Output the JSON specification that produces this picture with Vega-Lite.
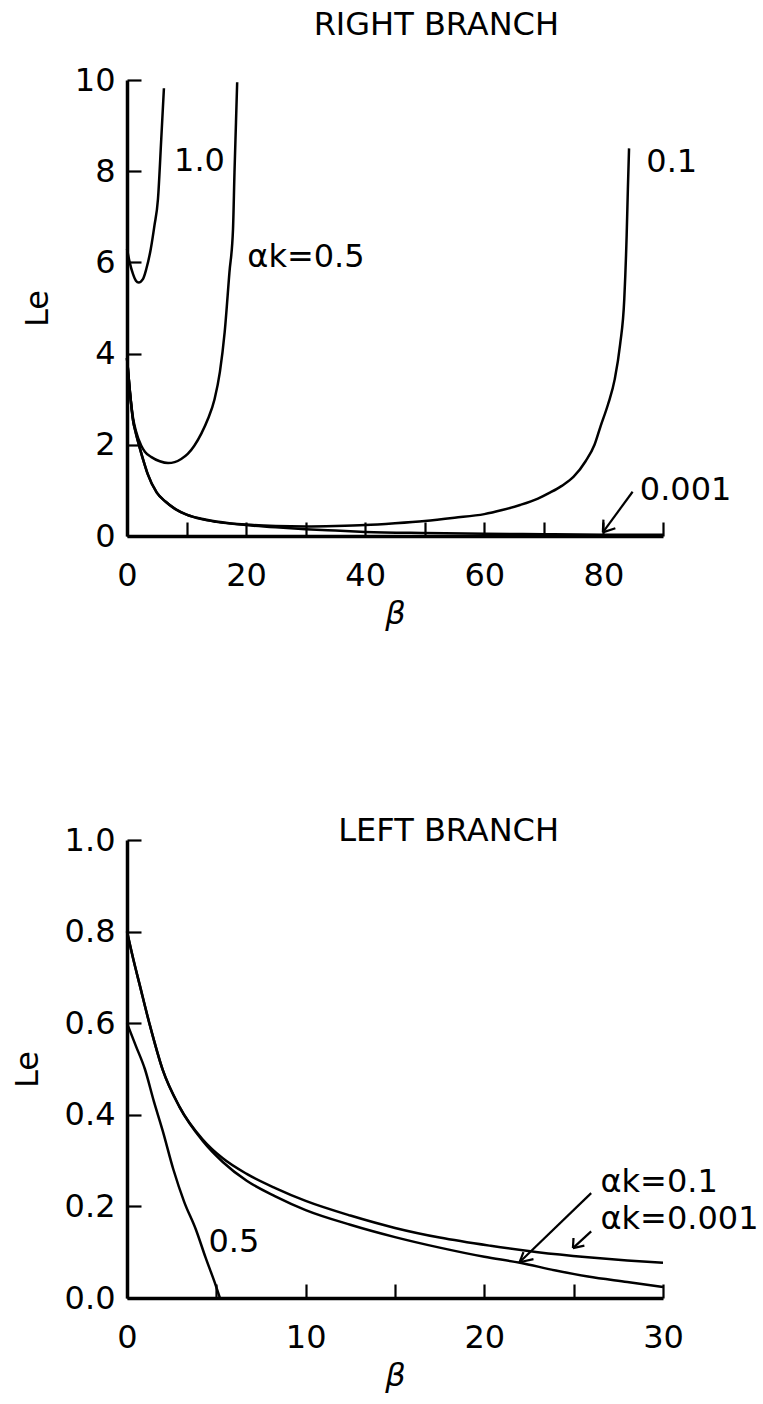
{
  "$schema": "https://vega.github.io/schema/vega-lite/v6.json",
  "padding": {"left": 11, "top": 9, "right": 5, "bottom": 12},
  "background": "white",
  "bounds": "flush",
  "spacing": 304,
  "config": {
    "view": {"stroke": null},
    "font": "DejaVu Sans",
    "axis": {
      "grid": false,
      "domainColor": "black",
      "domainWidth": 3.5,
      "tickColor": "black",
      "tickWidth": 2.2,
      "tickSize": -14,
      "labelFont": "DejaVu Sans",
      "labelFontSize": 32,
      "labelColor": "black",
      "titleFont": "DejaVu Sans",
      "titleFontSize": 32,
      "titleFontWeight": "normal",
      "titleColor": "black",
      "labelFlush": false,
      "labelOverlap": false,
      "labelBound": false
    },
    "axisX": {"labelPadding": 38, "titlePadding": 7},
    "axisY": {"labelPadding": 26, "titlePadding": 20},
    "title": {"font": "DejaVu Sans", "fontSize": 32, "fontWeight": "normal", "color": "black", "anchor": "end", "frame": "group", "dx": -104}
  },
  "datasets": {
    "top_curves": [
      {"ak": "1.0", "beta": 0, "le": 6.3}, {"ak": "1.0", "beta": 0.45, "le": 6.0}, {"ak": "1.0", "beta": 1.0, "le": 5.75}, {"ak": "1.0", "beta": 1.5, "le": 5.6}, {"ak": "1.0", "beta": 1.95, "le": 5.56}, {"ak": "1.0", "beta": 2.7, "le": 5.64}, {"ak": "1.0", "beta": 3.25, "le": 5.86}, {"ak": "1.0", "beta": 4.0, "le": 6.3}, {"ak": "1.0", "beta": 4.6, "le": 6.8}, {"ak": "1.0", "beta": 5.2, "le": 7.39}, {"ak": "1.0", "beta": 5.75, "le": 8.7}, {"ak": "1.0", "beta": 6.2, "le": 9.82},
      {"ak": "0.5", "beta": 0, "le": 3.9}, {"ak": "0.5", "beta": 0.5, "le": 3.15}, {"ak": "0.5", "beta": 1.0, "le": 2.6}, {"ak": "0.5", "beta": 1.5, "le": 2.3}, {"ak": "0.5", "beta": 2.4, "le": 1.98}, {"ak": "0.5", "beta": 3.0, "le": 1.85}, {"ak": "0.5", "beta": 4.1, "le": 1.73}, {"ak": "0.5", "beta": 5.5, "le": 1.64}, {"ak": "0.5", "beta": 6.9, "le": 1.6}, {"ak": "0.5", "beta": 8.0, "le": 1.62}, {"ak": "0.5", "beta": 9.1, "le": 1.69}, {"ak": "0.5", "beta": 10.2, "le": 1.8}, {"ak": "0.5", "beta": 11.3, "le": 1.98}, {"ak": "0.5", "beta": 12.5, "le": 2.25}, {"ak": "0.5", "beta": 13.6, "le": 2.57}, {"ak": "0.5", "beta": 14.7, "le": 3.0}, {"ak": "0.5", "beta": 15.6, "le": 3.6}, {"ak": "0.5", "beta": 16.4, "le": 4.47}, {"ak": "0.5", "beta": 17.2, "le": 5.78}, {"ak": "0.5", "beta": 17.8, "le": 6.73}, {"ak": "0.5", "beta": 18.05, "le": 7.98}, {"ak": "0.5", "beta": 18.3, "le": 9.07}, {"ak": "0.5", "beta": 18.5, "le": 9.95},
      {"ak": "0.1", "beta": 0, "le": 3.9}, {"ak": "0.1", "beta": 0.5, "le": 3.15}, {"ak": "0.1", "beta": 1, "le": 2.55}, {"ak": "0.1", "beta": 1.5, "le": 2.25}, {"ak": "0.1", "beta": 2, "le": 2.0}, {"ak": "0.1", "beta": 3, "le": 1.55}, {"ak": "0.1", "beta": 3.5, "le": 1.35}, {"ak": "0.1", "beta": 5, "le": 0.95}, {"ak": "0.1", "beta": 6.5, "le": 0.75}, {"ak": "0.1", "beta": 8, "le": 0.6}, {"ak": "0.1", "beta": 10, "le": 0.47}, {"ak": "0.1", "beta": 12.5, "le": 0.38}, {"ak": "0.1", "beta": 15, "le": 0.32}, {"ak": "0.1", "beta": 20, "le": 0.25}, {"ak": "0.1", "beta": 25, "le": 0.22}, {"ak": "0.1", "beta": 30, "le": 0.21}, {"ak": "0.1", "beta": 35, "le": 0.22}, {"ak": "0.1", "beta": 40, "le": 0.24}, {"ak": "0.1", "beta": 45, "le": 0.28}, {"ak": "0.1", "beta": 50, "le": 0.33}, {"ak": "0.1", "beta": 55, "le": 0.4}, {"ak": "0.1", "beta": 60, "le": 0.48}, {"ak": "0.1", "beta": 63, "le": 0.57}, {"ak": "0.1", "beta": 66, "le": 0.68}, {"ak": "0.1", "beta": 69, "le": 0.82}, {"ak": "0.1", "beta": 71, "le": 0.95}, {"ak": "0.1", "beta": 73, "le": 1.1}, {"ak": "0.1", "beta": 75, "le": 1.3}, {"ak": "0.1", "beta": 77, "le": 1.64}, {"ak": "0.1", "beta": 78.5, "le": 2.0}, {"ak": "0.1", "beta": 79.5, "le": 2.4}, {"ak": "0.1", "beta": 80.8, "le": 2.9}, {"ak": "0.1", "beta": 81.9, "le": 3.44}, {"ak": "0.1", "beta": 82.8, "le": 4.2}, {"ak": "0.1", "beta": 83.5, "le": 5.2}, {"ak": "0.1", "beta": 83.9, "le": 6.6}, {"ak": "0.1", "beta": 84.1, "le": 7.6}, {"ak": "0.1", "beta": 84.3, "le": 8.5},
      {"ak": "0.001", "beta": 0, "le": 3.9}, {"ak": "0.001", "beta": 0.5, "le": 3.15}, {"ak": "0.001", "beta": 1, "le": 2.55}, {"ak": "0.001", "beta": 1.5, "le": 2.25}, {"ak": "0.001", "beta": 2, "le": 2.0}, {"ak": "0.001", "beta": 3, "le": 1.55}, {"ak": "0.001", "beta": 3.5, "le": 1.35}, {"ak": "0.001", "beta": 5, "le": 0.95}, {"ak": "0.001", "beta": 6.5, "le": 0.75}, {"ak": "0.001", "beta": 8, "le": 0.6}, {"ak": "0.001", "beta": 10, "le": 0.47}, {"ak": "0.001", "beta": 12.5, "le": 0.37}, {"ak": "0.001", "beta": 15, "le": 0.31}, {"ak": "0.001", "beta": 20, "le": 0.24}, {"ak": "0.001", "beta": 25, "le": 0.19}, {"ak": "0.001", "beta": 30, "le": 0.15}, {"ak": "0.001", "beta": 35, "le": 0.12}, {"ak": "0.001", "beta": 40, "le": 0.09}, {"ak": "0.001", "beta": 50, "le": 0.065}, {"ak": "0.001", "beta": 60, "le": 0.05}, {"ak": "0.001", "beta": 70, "le": 0.04}, {"ak": "0.001", "beta": 80, "le": 0.03}, {"ak": "0.001", "beta": 90, "le": 0.025}
    ],
    "top_arrows": [
      {"beta": 84.9, "le": 0.97, "beta2": 79.9, "le2": 0.08},
      {"beta": 79.9, "le": 0.08, "beta2": 80.0, "le2": 0.36},
      {"beta": 79.9, "le": 0.08, "beta2": 82.0, "le2": 0.17}
    ],
    "top_labels": [
      {"beta": 7.9, "le": 8.22, "label": "1.0"},
      {"beta": 20.2, "le": 6.12, "label": "αk=0.5"},
      {"beta": 87.2, "le": 8.2, "label": "0.1"},
      {"beta": 86.1, "le": 1.01, "label": "0.001"}
    ],
    "bottom_curves": [
      {"ak": "0.001", "beta": 0, "le": 0.8}, {"ak": "0.001", "beta": 0.35, "le": 0.74}, {"ak": "0.001", "beta": 0.69, "le": 0.687}, {"ak": "0.001", "beta": 1.25, "le": 0.6}, {"ak": "0.001", "beta": 2.0, "le": 0.498}, {"ak": "0.001", "beta": 2.93, "le": 0.418}, {"ak": "0.001", "beta": 4.24, "le": 0.346}, {"ak": "0.001", "beta": 5.36, "le": 0.305}, {"ak": "0.001", "beta": 6.7, "le": 0.271}, {"ak": "0.001", "beta": 8.3, "le": 0.24}, {"ak": "0.001", "beta": 10, "le": 0.212}, {"ak": "0.001", "beta": 12.5, "le": 0.18}, {"ak": "0.001", "beta": 15, "le": 0.153}, {"ak": "0.001", "beta": 17.5, "le": 0.132}, {"ak": "0.001", "beta": 20.35, "le": 0.114}, {"ak": "0.001", "beta": 23, "le": 0.1}, {"ak": "0.001", "beta": 25.8, "le": 0.089}, {"ak": "0.001", "beta": 28, "le": 0.082}, {"ak": "0.001", "beta": 30, "le": 0.077},
      {"ak": "0.1", "beta": 0, "le": 0.8}, {"ak": "0.1", "beta": 0.35, "le": 0.74}, {"ak": "0.1", "beta": 0.69, "le": 0.687}, {"ak": "0.1", "beta": 1.25, "le": 0.6}, {"ak": "0.1", "beta": 2.0, "le": 0.498}, {"ak": "0.1", "beta": 2.93, "le": 0.418}, {"ak": "0.1", "beta": 4.24, "le": 0.343}, {"ak": "0.1", "beta": 5.36, "le": 0.297}, {"ak": "0.1", "beta": 6.7, "le": 0.256}, {"ak": "0.1", "beta": 8.3, "le": 0.222}, {"ak": "0.1", "beta": 10, "le": 0.192}, {"ak": "0.1", "beta": 12.5, "le": 0.16}, {"ak": "0.1", "beta": 15, "le": 0.133}, {"ak": "0.1", "beta": 17.5, "le": 0.11}, {"ak": "0.1", "beta": 20, "le": 0.09}, {"ak": "0.1", "beta": 22, "le": 0.077}, {"ak": "0.1", "beta": 24, "le": 0.06}, {"ak": "0.1", "beta": 25.8, "le": 0.047}, {"ak": "0.1", "beta": 28, "le": 0.035}, {"ak": "0.1", "beta": 30, "le": 0.024},
      {"ak": "0.5", "beta": 0, "le": 0.6}, {"ak": "0.5", "beta": 0.5, "le": 0.55}, {"ak": "0.5", "beta": 1.0, "le": 0.5}, {"ak": "0.5", "beta": 1.5, "le": 0.43}, {"ak": "0.5", "beta": 2.0, "le": 0.365}, {"ak": "0.5", "beta": 2.6, "le": 0.28}, {"ak": "0.5", "beta": 3.2, "le": 0.21}, {"ak": "0.5", "beta": 3.86, "le": 0.149}, {"ak": "0.5", "beta": 4.4, "le": 0.088}, {"ak": "0.5", "beta": 4.98, "le": 0.026}, {"ak": "0.5", "beta": 5.2, "le": 0.0}
    ],
    "bottom_arrows": [
      {"beta": 25.98, "le": 0.229, "beta2": 21.97, "le2": 0.078},
      {"beta": 21.97, "le": 0.078, "beta2": 22.19, "le2": 0.1},
      {"beta": 21.97, "le": 0.078, "beta2": 22.75, "le2": 0.085},
      {"beta": 25.98, "le": 0.1455, "beta2": 24.96, "le2": 0.109},
      {"beta": 24.96, "le": 0.109, "beta2": 24.99, "le2": 0.131},
      {"beta": 24.96, "le": 0.109, "beta2": 25.6, "le2": 0.1143}
    ],
    "bottom_labels": [
      {"beta": 4.56, "le": 0.1215, "label": "0.5"},
      {"beta": 26.5, "le": 0.2535, "label": "αk=0.1"},
      {"beta": 26.5, "le": 0.1715, "label": "αk=0.001"}
    ]
  },
  "vconcat": [
    {
      "width": 536,
      "height": 456,
      "title": {"text": "RIGHT BRANCH", "offset": 22},
      "layer": [
        {
          "data": {"name": "top_curves"},
          "mark": {"type": "line", "color": "black", "strokeWidth": 2.5, "interpolate": "monotone"},
          "encoding": {
            "x": {"field": "beta", "type": "quantitative", "title": "β", "scale": {"domain": [0, 90], "nice": false},
              "axis": {"values": [0, 10, 20, 30, 40, 50, 60, 70, 80, 90], "labelExpr": "datum.value % 20 == 0 && datum.value < 90 ? datum.label : ''", "titleFontStyle": "italic"}},
            "y": {"field": "le", "type": "quantitative", "title": "Le", "scale": {"domain": [0, 10], "nice": false},
              "axis": {"values": [0, 2, 4, 6, 8, 10], "format": "d"}},
            "detail": {"field": "ak"}
          }
        },
        {
          "data": {"name": "top_arrows"},
          "mark": {"type": "rule", "color": "black", "strokeWidth": 2.2},
          "encoding": {
            "x": {"field": "beta", "type": "quantitative", "title": "β", "scale": {"domain": [0, 90], "nice": false}},
            "y": {"field": "le", "type": "quantitative", "title": "Le", "scale": {"domain": [0, 10], "nice": false}},
            "x2": {"field": "beta2"},
            "y2": {"field": "le2"}
          }
        },
        {
          "data": {"name": "top_labels"},
          "mark": {"type": "text", "align": "left", "baseline": "middle", "font": "DejaVu Sans", "fontSize": 32, "color": "black"},
          "encoding": {
            "x": {"field": "beta", "type": "quantitative", "title": "β", "scale": {"domain": [0, 90], "nice": false}},
            "y": {"field": "le", "type": "quantitative", "title": "Le", "scale": {"domain": [0, 10], "nice": false}},
            "text": {"field": "label"}
          }
        }
      ]
    },
    {
      "width": 536,
      "height": 458,
      "title": {"text": "LEFT BRANCH", "offset": -24},
      "layer": [
        {
          "data": {"name": "bottom_curves"},
          "mark": {"type": "line", "color": "black", "strokeWidth": 2.5, "interpolate": "monotone"},
          "encoding": {
            "x": {"field": "beta", "type": "quantitative", "title": "β", "scale": {"domain": [0, 30], "nice": false},
              "axis": {"values": [0, 5, 10, 15, 20, 25, 30], "labelExpr": "datum.value % 10 == 0 ? datum.label : ''", "titleFontStyle": "italic"}},
            "y": {"field": "le", "type": "quantitative", "title": "Le", "scale": {"domain": [0, 1], "nice": false},
              "axis": {"values": [0, 0.2, 0.4, 0.6, 0.8, 1.0], "format": ".1f"}},
            "detail": {"field": "ak"}
          }
        },
        {
          "data": {"name": "bottom_arrows"},
          "mark": {"type": "rule", "color": "black", "strokeWidth": 2.2},
          "encoding": {
            "x": {"field": "beta", "type": "quantitative", "title": "β", "scale": {"domain": [0, 30], "nice": false}},
            "y": {"field": "le", "type": "quantitative", "title": "Le", "scale": {"domain": [0, 1], "nice": false}},
            "x2": {"field": "beta2"},
            "y2": {"field": "le2"}
          }
        },
        {
          "data": {"name": "bottom_labels"},
          "mark": {"type": "text", "align": "left", "baseline": "middle", "font": "DejaVu Sans", "fontSize": 32, "color": "black"},
          "encoding": {
            "x": {"field": "beta", "type": "quantitative", "title": "β", "scale": {"domain": [0, 30], "nice": false}},
            "y": {"field": "le", "type": "quantitative", "title": "Le", "scale": {"domain": [0, 1], "nice": false}},
            "text": {"field": "label"}
          }
        }
      ]
    }
  ]
}
